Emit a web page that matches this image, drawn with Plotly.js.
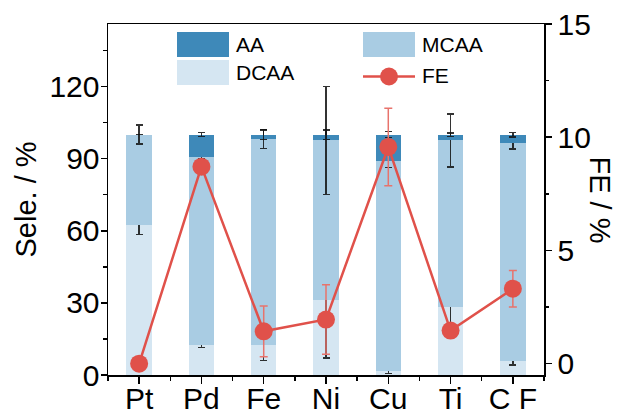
<!DOCTYPE html>
<html>
<head>
<meta charset="utf-8">
<script src="https://cdn.plot.ly/plotly-3.0.1.min.js"></script>
<style>
  html, body { margin: 0; padding: 0; background: #fff; }
  #chart { width: 625px; height: 412px; }
</style>
</head>
<body>
<div id="chart"></div>
<script>
// Catalysts on the x axis
const categories = ['Pt', 'Pd', 'Fe', 'Ni', 'Cu', 'Ti', 'C F'];

// Product selectivity (%), stacked: DCAA at the bottom, MCAA, then AA on top
const dcaa = [62.3, 12.5, 12.5, 31.0, 1.8, 28.2, 6.0];
const mcaa = [37.7, 78.0, 85.7, 66.6, 87.1, 69.4, 90.5];
const aa   = [0.0, 9.5, 1.8, 2.4, 11.1, 2.4, 3.5];

// Error bars for each selectivity segment
const dcaaErr = [3.9, 1.1, 6.5, 24.0, 1.2, 10.5, 1.8];
const mcaaErr = [4.0, 0.4, 4.0, 22.5, 2.6, 11.0, 2.5];
const aaErr   = [null, 0.8, 2.0, 2.0, 1.3, 0.7, 0.9];

// Faradaic efficiency (%) and its error
const fe    = [0.0, 8.7, 1.43, 1.95, 9.57, 1.46, 3.31];
const feErr = [0.0, 0.3, 1.12, 1.53, 1.71, 0.3, 0.81];

const xIdx = categories.map((_, i) => i);

const C_AA = '#3e89b9';
const C_MCAA = '#a9cce3';
const C_DCAA = '#d5e6f2';
const C_FE = '#e0514a';
const C_FE_ERR = '#e8736c';
const ERR_BLACK = 'rgba(15,15,15,0.85)';

const FONT = 'Liberation Sans, Arial, sans-serif';

function barTrace(name, vals, errs, color) {
  return {
    type: 'bar', name: name, x: xIdx, y: vals, width: 0.41,
    marker: { color: color, line: { width: 0 } },
    error_y: { type: 'data', array: errs, visible: true, color: ERR_BLACK, thickness: 1.5, width: 3.5 },
    showlegend: false, hoverinfo: 'y'
  };
}

const traces = [
  barTrace('DCAA', dcaa, dcaaErr, C_DCAA),
  barTrace('MCAA', mcaa, mcaaErr, C_MCAA),
  barTrace('AA', aa, aaErr, C_AA),
  {
    type: 'scatter', mode: 'lines+markers', name: 'FE', x: xIdx, y: fe, yaxis: 'y2',
    line: { color: C_FE, width: 2.5 },
    marker: { color: C_FE, size: 18 },
    error_y: { type: 'data', array: feErr, visible: true, color: C_FE_ERR, thickness: 1.5, width: 4 },
    showlegend: false
  }
];

// Plot area in pixels
const W = 625, H = 412;
const L = 108, R = 81, T = 24, B = 37;
const PW = W - L - R, PH = H - T - B;
const px = v => (v - L) / PW;
const py = v => (H - B - v) / PH;

// Hand-made legend: large swatches in two columns
const legendItems = [
  { label: 'AA', color: C_AA, kind: 'box', x: 177, y: 32 },
  { label: 'MCAA', color: C_MCAA, kind: 'box', x: 363, y: 32 },
  { label: 'DCAA', color: C_DCAA, kind: 'box', x: 177, y: 60 },
  { label: 'FE', color: C_FE, kind: 'line', x: 363, y: 60 }
];
const swW = 52, swH = 25;
const shapes = [];
const annotations = [];
legendItems.forEach(it => {
  if (it.kind === 'box') {
    shapes.push({ type: 'rect', xref: 'paper', yref: 'paper',
      x0: px(it.x), x1: px(it.x + swW), y0: py(it.y + swH), y1: py(it.y),
      fillcolor: it.color, line: { width: 0 } });
  } else {
    const cy = py(it.y + swH / 2 + 4);
    shapes.push({ type: 'line', xref: 'paper', yref: 'paper',
      x0: px(it.x), x1: px(it.x + swW), y0: cy, y1: cy,
      line: { color: it.color, width: 2.5 } });
    shapes.push({ type: 'circle', xref: 'paper', yref: 'paper',
      xsizemode: 'pixel', ysizemode: 'pixel',
      xanchor: px(it.x + swW / 2), yanchor: cy,
      x0: -9, x1: 9, y0: -9, y1: 9,
      fillcolor: it.color, line: { width: 0 } });
  }
  annotations.push({ xref: 'paper', yref: 'paper', x: px(it.x + swW + 5), y: py(it.y + swH / 2 + (it.kind === 'line' ? 3 : 0)),
    xanchor: 'left', yanchor: 'middle', showarrow: false, text: it.label,
    font: { family: FONT, size: 21, color: '#000' } });
});

// Right axis title reads top to bottom
annotations.push({ xref: 'paper', yref: 'paper', x: px(600), y: 0.5, xanchor: 'center', yanchor: 'middle',
  showarrow: false, textangle: 90, text: 'FE / %', font: { family: FONT, size: 29, color: '#000' } });

const axisCommon = {
  showgrid: false, zeroline: false, showline: true, linecolor: '#000', linewidth: 1.5,
  ticks: 'outside', tickcolor: '#000', tickwidth: 1.5, ticklen: 6,
  tickfont: { family: FONT, size: 30, color: '#000' }
};

const layout = {
  width: W, height: H,
  margin: { l: L, r: R, t: T, b: B, pad: 0 },
  paper_bgcolor: '#fff', plot_bgcolor: '#fff',
  barmode: 'stack',
  font: { family: FONT, color: '#000' },
  xaxis: Object.assign({}, axisCommon, {
    range: [-0.5, 6.5], tickmode: 'array', tickvals: xIdx, ticktext: categories, ticklen: 7,
    ticklabelstandoff: -11,
    mirror: true,
    minor: { tickmode: 'linear', tick0: 0.5, dtick: 1, ticks: 'outside', ticklen: 4, tickwidth: 1.5, tickcolor: '#000' }
  }),
  yaxis: Object.assign({}, axisCommon, {
    range: [0, 146], tickmode: 'linear', tick0: 0, dtick: 30,
    ticklabelstandoff: -5,
    minor: { tickmode: 'linear', tick0: 0, dtick: 15, ticks: 'outside', ticklen: 3.5, tickwidth: 1.5, tickcolor: '#000' },
    title: { text: 'Sele. / %', font: { family: FONT, size: 29, color: '#000' }, standoff: 4 }
  }),
  yaxis2: Object.assign({}, axisCommon, {
    overlaying: 'y', side: 'right', range: [-0.5, 15], tickmode: 'linear', tick0: 0, dtick: 5,
    minor: { tickmode: 'linear', tick0: 0, dtick: 2.5, ticks: 'outside', ticklen: 3.5, tickwidth: 1.5, tickcolor: '#000' }
  }),
  shapes: shapes,
  annotations: annotations,
  showlegend: false
};

Plotly.newPlot('chart', traces, layout, { displayModeBar: false, staticPlot: true });
</script>
</body>
</html>
